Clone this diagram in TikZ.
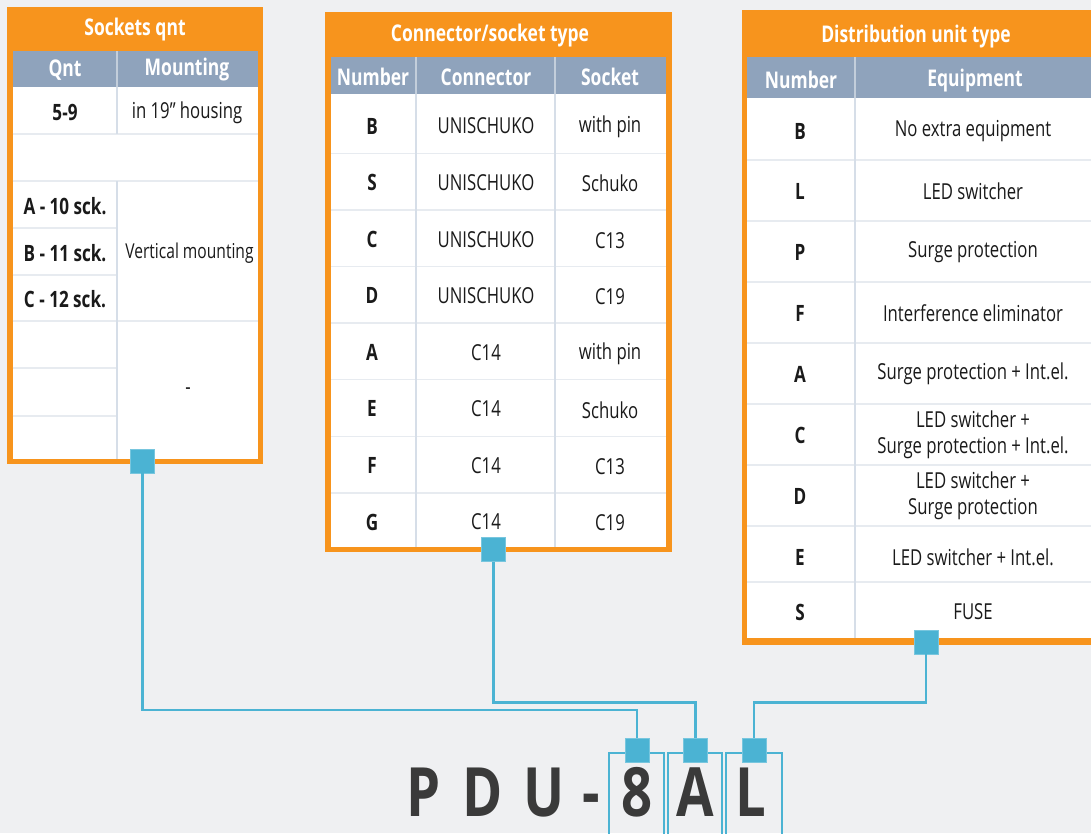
\documentclass[tikz,border=0pt]{standalone}
\usepackage{fontspec}
\newfontfamily\cf{Open Sans}[FakeStretch=0.76]
\newfontfamily\bigf{Open Sans}[FakeStretch=0.8]
\definecolor{bgc}{HTML}{EFF0F2}
\definecolor{orng}{HTML}{F7941D}
\definecolor{hdr}{HTML}{8FA3BC}
\definecolor{hdrline}{HTML}{C3CEDB}
\definecolor{rowc}{HTML}{E7EBF0}
\definecolor{colc}{HTML}{D6DEE8}
\definecolor{blu}{HTML}{4BB3D3}
\definecolor{txt}{HTML}{1A1A1A}
\definecolor{dark}{HTML}{3A3A3A}
\tikzset{
  title/.style={font=\cf\bfseries\fontsize{23}{25}\selectfont, text=white, inner sep=0},
  colhead/.style={font=\cf\bfseries\fontsize{23}{25}\selectfont, text=white, inner sep=0},
  cell/.style={font=\cf\fontsize{22}{26}\selectfont, text=txt, align=center, inner sep=0},
  num/.style={font=\cf\bfseries\fontsize{22.5}{25}\selectfont, text=txt, inner sep=0},
  rowline/.style={draw=rowc, line width=1.5pt},
  colline/.style={draw=colc, line width=1.2pt},
  hdrsep/.style={draw=hdrline, line width=1.2pt},
  conn/.style={draw=blu, line width=2.6pt},
  sqr/.style={fill=blu, draw=blu!75!white, line width=0.6pt, minimum size=24pt, inner sep=0},
  lbox/.style={draw=blu, line width=1.6pt, fill=none},
  big/.style={font=\bigf\bfseries\fontsize{68}{70}\selectfont, text=dark, anchor=base, inner sep=0}
}
\begin{document}
\begin{tikzpicture}[x=1pt,y=-1pt]
\useasboundingbox (0,0) rectangle (1091,833);
\fill[bgc] (0,0) rectangle (1091,833);

% ---------- Left table: Sockets qnt ----------
\fill[orng] (7,7) rectangle (263,464);
\fill[white] (12.5,51) rectangle (258,459);
\fill[hdr] (12.5,51) rectangle (258,87);
\draw[hdrsep] (117,51) -- (117,87);
\node[title] (lt) at (135,30) {Sockets qnt};
\node[colhead] (lh1) at (65,70) {Qnt};
\node[colhead] (lh2) at (187,70) {Mounting};
\draw[rowline] (12.5,134) -- (258,134);
\draw[rowline] (12.5,181) -- (258,181);
\draw[rowline] (12.5,228) -- (117,228);
\draw[rowline] (12.5,275) -- (117,275);
\draw[rowline] (12.5,321) -- (258,321);
\draw[rowline] (12.5,368) -- (117,368);
\draw[rowline] (12.5,416) -- (117,416);
\draw[colline] (117,87) -- (117,134);
\draw[colline] (117,181) -- (117,459);
\node[num] (l1) at (65,112) {5-9};
\node[cell] (l1b) at (187,113) {in 19” housing};
\node[num] (l2) at (65,206) {A - 10 sck.};
\node[num] (l3) at (65,253) {B - 11 sck.};
\node[num] (l4) at (65,299) {C - 12 sck.};
\node[cell, font=\cf\fontsize{20.5}{24}\selectfont] (lvm) at (189.5,253) {Vertical mounting};
\node[cell] (ldash) at (188,391) {-};

% ---------- Middle table: Connector/socket type ----------
\fill[orng] (325,12) rectangle (672,552);
\fill[white] (331,57) rectangle (666,547);
\fill[hdr] (331,57) rectangle (666,94);
\draw[hdrsep] (416,57) -- (416,94);
\draw[hdrsep] (555,57) -- (555,94);
\node[title] (mt) at (490,36) {Connector/socket type};
\node[colhead] (mh1) at (373,77) {Number};
\node[colhead] (mh2) at (486,77) {Connector};
\node[colhead] (mh3) at (610,77) {Socket};
\foreach \k in {1,...,7} {
  \draw[rowline] (331,{96.7+56.6*\k}) -- (666,{96.7+56.6*\k});
}
\draw[colline] (416,94) -- (416,547);
\draw[colline] (555,94) -- (555,547);
\foreach \n/\c/\s [count=\i] in {B/UNISCHUKO/with pin, S/UNISCHUKO/Schuko, C/UNISCHUKO/C13, D/UNISCHUKO/C19, A/C14/with pin, E/C14/Schuko, F/C14/C13, G/C14/C19} {
  \node[num, name=mn\i] at (372,{126+56.57*(\i-1)}) {\n};
  \node[cell, name=mc\i] at (486,{126+56.57*(\i-1)}) {\c};
  \node[cell, name=ms\i] at (610,{127+56.57*(\i-1)}) {\s};
}

% ---------- Right table: Distribution unit type ----------
\fill[orng] (742,10) rectangle (1091,645);
\fill[white] (747,57) rectangle (1091,638);
\fill[hdr] (747,57) rectangle (1091,98);
\draw[hdrsep] (855,57) -- (855,98);
\node[title] (rt) at (916,37) {Distribution unit type};
\node[colhead] (rh1) at (801,80) {Number};
\node[colhead] (rh2) at (975,81) {Equipment};
\foreach \yy in {160,221,282,343,404,465,526,582} {
  \draw[rowline] (747,\yy) -- (1091,\yy);
}
\draw[colline] (855,98) -- (855,638);
\foreach \n/\e/\yy [count=\i] in {B/No extra equipment/131, L/LED switcher/191, P/Surge protection/252, F/Interference eliminator/313, A/Surge protection + Int.el./374, C/{LED switcher +\\Surge protection + Int.el.}/435, D/{LED switcher +\\Surge protection}/496, E/LED switcher + Int.el./557, S/FUSE/612} {
  \node[num, name=rn\i] at (800,\yy) {\n};
  \node[cell, name=re\i] at (973,\yy) {\e};
}

% ---------- Code letters ----------
\node[big] (cP) at (424,816) {P};
\node[big] (cD) at (483,816) {D};
\node[big] (cU) at (544,816) {U};
\node[big] (cH) at (591,816) {-};
\node[big] (c8) at (637,816) {8};
\node[big] (cA) at (695,816) {A};
\node[big] (cL) at (751,816) {L};
\draw[lbox] (609,753) rectangle (664,845);
\draw[lbox] (668,753) rectangle (722,845);
\draw[lbox] (726,753) rectangle (782,845);

% ---------- Squares ----------
\node[sqr] (sq1) at (142.5,461) {};
\node[sqr] (sq2) at (493.5,549.5) {};
\node[sqr] (sq3) at (926,642) {};
\node[sqr] (ss1) at (637,750) {};
\node[sqr] (ss2) at (695.5,750) {};
\node[sqr] (ss3) at (754,750) {};

% ---------- Connectors ----------
\coordinate (hA) at (0,710);
\coordinate (hB) at (0,702.5);
\draw[conn] (sq1.south) |- (ss1.north |- hA) -- (ss1.north);
\draw[conn] (sq2.south) |- (ss2.north |- hB) -- (ss2.north);
\draw[conn] (sq3.south) |- (ss3.north |- hB) -- (ss3.north);
\end{tikzpicture}
\end{document}
